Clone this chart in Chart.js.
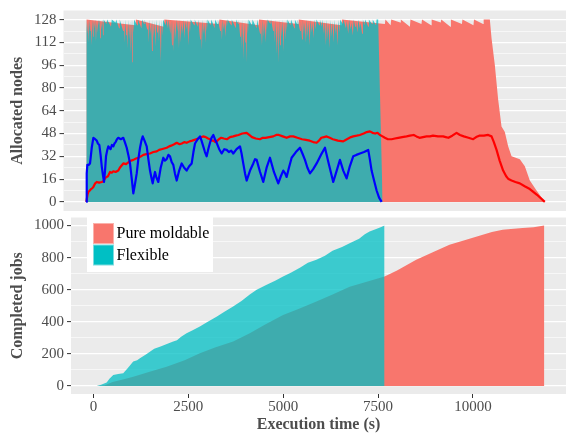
<!DOCTYPE html>
<html><head><meta charset="utf-8">
<script src="https://cdn.jsdelivr.net/npm/chart.js@4.4.1/dist/chart.umd.min.js"></script>
<style>
html,body{margin:0;padding:0;background:#fff;}
#wrap{position:relative;width:566px;height:433px;overflow:hidden;background:#fff;}
#c1{position:absolute;left:0;top:0;}
#c2{position:absolute;left:0;top:211px;}
</style></head><body>
<div id="wrap"><canvas id="c1" width="566" height="211"></canvas><canvas id="c2" width="566" height="222"></canvas></div>
<script>
// ---------- tick labels ----------
const xTicks = [0, 2500, 5000, 7500, 10000];
const yTicksTop = [0, 16, 32, 48, 64, 80, 96, 112, 128];
const yTicksBottom = [0, 200, 400, 600, 800, 1000];
const legendLabels = ['Pure moldable', 'Flexible'];

// ---------- top panel: allocated nodes ----------
const flexAllocT = [0,25,45,60,80,100,115,135,155,175,190,210,228,250,270,290,305,325,340,360,378,400,418,433,450,
 520,540,640,660,760,775,850,868,
 955,975,995,1015,1035,1055,1075,1095,1115,1135,1155,1172,1190,1205,1222,1240,
 1320,1340,1430,1448,1500,1515,
 1580,1600,1620,1640,1665,1685,1705,1725,1750,1770,1795,1815,1840,1860,1885,1905,1935,1952,1975,1992,
 2060,2078,2120,2136,
 2180,2200,2225,2245,2270,2290,2315,2335,2360,2380,2405,2425,2450,2470,2500,2520,2550,2570,2600,2620,2650,2668,2690,2708,
 2800,2815,2890,2905,
 2955,2975,3000,3020,3045,3065,3090,3110,3130,3148,
 3230,3245,3330,3345,3400,3415,
 3475,3495,3520,3540,3565,3585,3610,3630,3650,3668,
 3760,3775,3880,3895,3940,3955,
 3995,4015,4040,4058,4080,4098,4120,4138,4160,4178,4195,4212,
 4300,4315,4420,4435,
 4510,4530,4560,4580,4610,4630,4660,4678,4690,4705,
 4780,4795,
 4850,4870,4895,4915,4940,4960,4985,5003,5030,5050,5075,5095,5120,5140,5165,5185,5205,5222,
 5300,5315,5400,5415,5470,5485,
 5550,5570,5600,5620,5650,5670,5700,5720,5750,5770,5800,5820,5850,5870,5900,5920,5955,5975,
 6050,6065,6110,6125,
 6170,6190,6220,6240,6270,6290,6320,6340,6370,6390,6420,6440,6470,6490,6520,6540,6570,6588,
 6660,6675,
 6740,6760,6800,6820,6860,6880,6920,6940,6980,7000,7040,7060,7100,7120,7160,7180,7220,7240,
 7320,7335,7420,7435,7520,7535,7577,7692];
const flexAllocV = [128,118,127,112,128,120,126,110,128,116,127,122,128,113,126,119,128,124,128,115,127,121,128,117,128,
 125,128,123,128,126,128,122,128,
 120,127,112,128,117,126,108,128,114,127,104,128,98,128,119,128,
 124,128,122,128,125,128,
 121,127,112,128,118,126,106,128,115,127,109,128,119,126,113,128,98,128,117,128,
 124,128,122,128,
 118,127,110,128,106,126,114,128,120,127,108,128,112,126,118,128,115,127,121,128,110,126,119,128,
 124,128,123,128,
 114,127,107,128,118,126,112,128,120,128,
 124,128,122,128,125,128,
 120,127,114,128,121,126,116,128,123,128,
 124,128,122,128,125,128,
 116,127,108,128,100,126,112,128,98,128,118,128,
 124,128,122,128,
 118,127,110,128,116,126,112,128,121,128,
 125,128,
 120,127,112,128,104,126,98,128,110,127,116,128,106,126,114,128,120,128,
 124,128,122,128,125,128,
 120,127,114,128,118,126,112,128,116,127,110,128,119,126,115,128,121,128,
 124,128,123,128,
 118,127,110,128,114,126,108,128,116,127,112,128,118,126,110,128,119,128,
 125,128,
 122,127,118,128,121,126,117,128,123,127,119,128,122,126,118,128,124,128,
 123,128,125,128,124,128,128,0];

const moldAllocT = [0,1270,1285,2010,2025,3440,3455,4470,4485,5500,5515,6620,6635,
 7750,7765,7900,7915,8150,8165,8400,8415,8700,8715,8950,8965,9200,9215,9450,9465,9750,9765,10050,10065,10300,10315,
 10476,10520,10606,10691,10779,10865,10951,11039,11254,11384,11514,11688,11903];
const moldAllocV = [128,124,128,123,128,125,128,124,128,125,128,124,128,
 125,128,124,128,126,128,123,128,125,128,124,128,126,128,123,128,125,128,124,128,125,128,
 128,115,96,72,53,49,39,32,30,25,15,8,0];

const redT = [0,30,52,90,120,150,182,210,230,270,330,400,441,500,560,615,660,700,760,830,870,900,960,1030,1100,1160,1220,1290,1350,1420,1479,1560,1650,1740,1827,1890,1950,2020,2086,2150,2200,2280,2346,2420,2480,2540,2605,2680,2750,2850,
 2951,3030,3100,3160,3210,3260,3300,3350,3384,3440,3500,3570,3650,3730,3815,3880,3950,4050,4162,4230,4300,4400,4507,4580,4650,4750,4853,4930,5000,5100,5200,5290,5372,5480,5600,5700,5800,5890,5979,6040,6100,6170,6238,6320,6400,6530,6669,6730,6800,6870,6929,7020,7100,7200,7280,7362,7430,7500,7560,7622,7690,
 7750,7830,7925,8010,8100,8200,8314,8400,8500,8570,8650,8740,8833,8920,9000,9130,9264,9330,9400,9500,9612,9700,9800,9920,10043,10120,10200,10320,10432,10520,10580,10650,10730,10821,10900,10960,11039,11140,11254,11380,11514,11700,11903];
const redV = [0,5,7,8,9,9.5,10.5,12,13,14,13.5,14,14.5,17,18,21,20.5,21.5,21,22,24,25,27,26.5,28,29,29.5,30.5,31,32,33,33.5,34,35,35.5,36.5,37,37.5,38,39,39.5,40.5,41.5,40.5,41,42,41.5,42.5,43,44,
 45,46,45.5,44.5,44,43,43,42,42.5,44,45,44.5,44,45.5,46,46.5,47,48,48.5,47,45.5,44.5,44,45,45,45.5,46,47,47,46,45,46,46,45,44,43.5,43,42,41.5,43,45,45.5,46,45,44,43,42.5,43.5,44.5,45.5,46,46.5,47,48,49,49.5,48.5,48,48.5,47,46,
 45,44,44,44.5,45,45.5,46,46.5,47,46,45,45.5,46,46,46.5,46,46,45.5,45,46.5,48.5,47,46,45,44,45.5,46.5,46.5,47,46,42,36.5,29,22,18,16,15,14,13,11,9,5,0];

const blueT = [0,10,26,60,96,140,182,230,270,300,337,370,400,430,459,485,511,540,571,600,630,665,701,730,760,795,830,895,960,1000,1048,1090,1134,1180,1220,1260,1308,1350,1394,1430,1464,1510,1567,1610,1653,1690,1723,1750,1783,1820,1868,1930,1998,2040,2086,2130,2172,2215,2258,2300,2346,2410,2476,2540,2605,2670,2735,2780,2821,2890,2951,
 2990,3036,3080,3124,3165,3210,3250,3296,3340,3384,3450,3514,3580,3643,3700,3760,3815,3900,3989,4030,4074,4120,4162,4250,4334,4380,4422,4510,4593,4680,4767,4870,4982,5050,5112,5160,5200,5260,5330,5440,5546,5610,5676,5740,5806,5890,5979,6090,6195,6300,6410,6500,6584,6670,6757,6840,6929,7010,7103,7210,7318,7360,7406,7470,7536,7600,7666];
const blueV = [0,20,26,26,27,38,45,44,43,41,40,33,25,19,14,22,32,36,39,38,37,40,39,41,42,44,45,44,45,42,38,33,27,16,6,12,20,30,38,43,46,43,39,30,22,17,13,17,21,17,14,24,31,29,30,33,32,28,26,20,15,22,27,24,22,25,27,35,41,44,46,
 43,39,35,32,37,41.5,45,47,44,41.5,37,34,37,36.5,35,36,34,37,39,34,27,20,15,22,27,30,29.5,21,14,24,31,21,13,18,22,20,17.5,24,31,35,38,34,29.5,24,20,23,27,33,38,26,14,22,29.5,22,16.5,25,32,33,34,35,36.5,30,22,15,8,3,0];

// ---------- bottom panel: completed jobs ----------
const flexDoneT = [84,200,347,420,521,650,784,900,1047,1150,1224,1400,1600,1750,1900,2100,2200,2300,2452,2600,2803,3000,3242,3450,3679,3900,4118,4300,4550,4800,4995,5200,5450,5650,5874,6100,6300,6550,6750,7000,7150,7276,7450,7600,7671];
const flexDoneV = [0,8,21,45,69,75,79,110,152,160,173,200,232,245,258,277,285,305,329,346,370,398,432,462,495,530,570,600,630,658,682,705,738,768,786,812,842,866,890,918,945,963,978,992,1000];
const moldDoneT = [84,300,500,800,1047,1500,1926,2400,2803,3200,3679,4118,4500,4995,5400,5874,6300,6750,7200,7671,8000,8505,9000,9382,9800,10258,10500,10784,11000,11311,11600,11882];
const moldDoneV = [0,5,25,42,58,90,120,160,204,240,277,329,380,443,480,526,570,619,650,682,720,786,840,880,910,942,960,973,978,984,990,1000];

// ---------- helpers ----------
const zip = (t, v) => t.map((x, i) => ({x: x, y: v[i]}));
const withMinor = arr => { const out = []; arr.forEach((v, i) => { out.push(v); if (i < arr.length - 1) out.push((v + arr[i+1]) / 2); }); return out; };
const FONT = "'Liberation Serif', 'Times New Roman', serif";
const GREY = '#4D4D4D';
const PINK = '#F8766D';
const TEAL_A = 'rgba(0,191,196,0.75)';

const panelBg = {
  id: 'panelBg',
  beforeDraw(chart) {
    const {ctx, chartArea: a} = chart;
    ctx.save(); ctx.fillStyle = '#EBEBEB';
    ctx.fillRect(a.left, a.top, a.right - a.left, a.bottom - a.top);
    ctx.restore();
  }
};

function yScale(min, max, majors, width, title) {
  return {
    type: 'linear', min: min, max: max,
    afterBuildTicks(s) { s.ticks = withMinor(majors).map(v => ({value: v})); },
    afterFit(s) { s.width = width; s.paddingTop = 0; s.paddingBottom = 0; },
    ticks: { autoSkip: false, padding: 3, color: GREY, font: {family: FONT, size: 15},
      callback: v => majors.includes(v) ? String(v) : '' },
    grid: { color: '#FFFFFF',
      lineWidth: c => (c.tick && majors.includes(c.tick.value)) ? 1.2 : 0.6,
      tickColor: c => (c.tick && majors.includes(c.tick.value)) ? '#333333' : 'rgba(0,0,0,0)',
      tickLength: 4, tickWidth: 1 },
    border: { display: false },
    title: { display: true, text: title, color: GREY,
      font: {family: FONT, size: 16, weight: 'bold', lineHeight: 1}, padding: {top: 9.5, bottom: 0} }
  };
}

const areaDs = (label, data, color) => ({ label: label, data: data, borderWidth: 0, borderColor: 'rgba(0,0,0,0)',
  backgroundColor: color, fill: 'origin', pointRadius: 0, tension: 0 });
const lineDs = (label, data, color) => ({ label: label, data: data, borderWidth: 2.2, borderColor: color,
  fill: false, pointRadius: 0, tension: 0, borderJoinStyle: 'round' });

const X_MIN = -593, X_MAX = 12453;

new Chart(document.getElementById('c1'), {
  type: 'line',
  data: { datasets: [
    lineDs('Flexible nodes avg', zip(blueT, blueV), '#0000FF'),
    lineDs('Pure moldable nodes avg', zip(redT, redV), '#FF0000'),
    areaDs('Flexible', zip(flexAllocT, flexAllocV), TEAL_A),
    areaDs('Pure moldable', zip(moldAllocT, moldAllocV), PINK)
  ]},
  options: {
    responsive: false, animation: false, devicePixelRatio: 1,
    layout: { padding: {top: 10.5, left: 0, right: 0, bottom: 0} },
    plugins: { legend: {display: false}, tooltip: {enabled: false} },
    scales: {
      x: { type: 'linear', display: false, min: X_MIN, max: X_MAX },
      y: yScale(-6.4, 134.4, yTicksTop, 63.5, 'Allocated nodes')
    }
  },
  plugins: [panelBg]
});

const legendPlugin = {
  id: 'legendBox',
  afterDraw(chart) {
    const ctx = chart.ctx, oy = -211;
    const cols = [PINK, '#00BFC4'];
    const outl = ['#FBB1AB', '#7FDCDF'];
    ctx.save();
    ctx.fillStyle = '#FFFFFF';
    ctx.fillRect(87, 217 + oy, 126, 55);
    legendLabels.forEach((lab, i) => {
      const top = 223.5 + i * 21.5 + oy;
      ctx.fillStyle = cols[i];
      ctx.fillRect(93.5, top, 20, 20);
      ctx.strokeStyle = outl[i]; ctx.lineWidth = 1;
      ctx.strokeRect(93.5, top, 20, 20);
      ctx.fillStyle = '#000000';
      ctx.font = '16px ' + FONT;
      ctx.textBaseline = 'middle'; ctx.textAlign = 'left';
      ctx.fillText(lab, 116.5, top + 10.5);
    });
    ctx.restore();
  }
};

new Chart(document.getElementById('c2'), {
  type: 'line',
  data: { datasets: [
    areaDs('Flexible', zip(flexDoneT, flexDoneV), TEAL_A),
    areaDs('Pure moldable', zip(moldDoneT, moldDoneV), PINK)
  ]},
  options: {
    responsive: false, animation: false, devicePixelRatio: 1,
    layout: { padding: {top: 6.5, left: 0, right: 0, bottom: 0} },
    plugins: { legend: {display: false}, tooltip: {enabled: false} },
    scales: {
      x: { type: 'linear', min: X_MIN, max: X_MAX,
        afterBuildTicks(s) { s.ticks = xTicks.map(v => ({value: v})); },
        afterFit(s) { s.height = 39; s.paddingLeft = 0; s.paddingRight = 0; },
        ticks: { autoSkip: false, maxRotation: 0, padding: 0, color: GREY, font: {family: FONT, size: 15},
          callback: v => String(v) },
        grid: { drawOnChartArea: false, tickColor: '#333333', tickLength: 4, tickWidth: 1 },
        border: { display: false },
        title: { display: true, text: 'Execution time (s)', color: GREY,
          font: {family: FONT, size: 16, weight: 'bold', lineHeight: 1}, padding: {top: 0, bottom: 0} }
      },
      y: yScale(-50, 1050, yTicksBottom, 71, 'Completed jobs')
    }
  },
  plugins: [panelBg, legendPlugin]
});
</script>
</body></html>
